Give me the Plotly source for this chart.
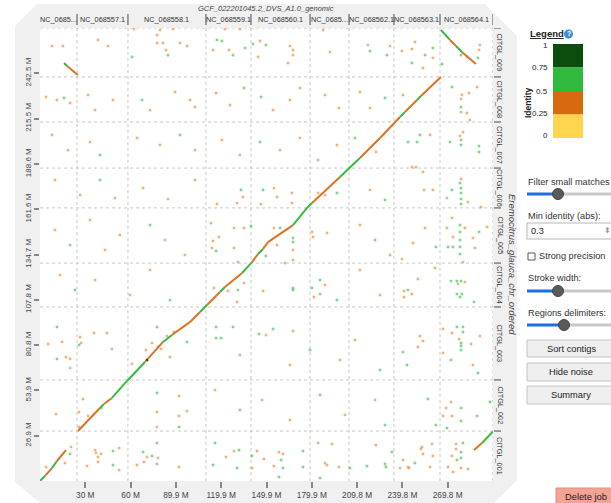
import plotly.graph_objects as go

# ---------------- data (Mb) ----------------
x_title = "GCF_022201045.2_DVS_A1.0_genomic"
y_title = "Eremocitrus_glauca_chr_ordered"

x_contig_names = ["NC_0685...", "NC_068557.1", "NC_068558.1", "NC_068559.1", "NC_068560.1",
                  "NC_0685...", "NC_068562.1", "NC_068563.1", "NC_068564.1"]
x_contig_ends = [24.5, 58.2, 109.8, 139.6, 178.7, 204.5, 234.2, 264.7, 299.77]

y_contig_names = ["CITGL_001", "CITGL_002", "CITGL_003", "CITGL_004", "CITGL_005",
                  "CITGL_006", "CITGL_007", "CITGL_008", "CITGL_009"]
y_contig_ends = [29.7, 60.1, 103.5, 129.6, 162.4, 186.1, 213.5, 240.3, 269.4]

x_tick_vals = [29.98, 59.95, 89.93, 119.91, 149.89, 179.86, 209.84, 239.82, 269.79]
x_tick_text = ["30 M", "60 M", "89.9 M", "119.9 M", "149.9 M", "179.9 M", "209.8 M", "239.8 M", "269.8 M"]
y_tick_vals = [26.94, 53.88, 80.82, 107.76, 134.70, 161.64, 188.58, 215.52, 242.46]
y_tick_text = ["26.9 M", "53.9 M", "80.8 M", "107.8 M", "134.7 M", "161.6 M", "188.6 M", "215.5 M", "242.5 M"]

# alignment blocks: start (x0,y0) -> end (x1,y1), identity
seg_x0 = [0.0, 3.3, 7.9, 11.2,
          25.1, 39.7, 42.3, 47.6, 57.6, 69.5, 81.4, 87.3, 99.3, 105.9, 110.5, 119.1, 122.4, 133.7,
          140.3, 144.3, 147.6, 150.9, 167.4, 176.7, 180.0, 198.5, 211.7, 225.0, 238.2, 241.5, 249.5, 252.1,
          265.3, 271.3, 275.3, 279.2,
          15.9, 17.9,
          287.2, 292.5,
          70.5]
seg_y0 = [0.0, 3.0, 7.7, 11.9,
          29.7, 43.4, 45.8, 49.4, 59.5, 70.8, 82.7, 86.8, 94.6, 100.5, 104.7, 112.4, 115.4, 123.7,
          130.2, 135.0, 138.0, 142.1, 152.2, 162.4, 165.3, 180.8, 192.1, 204.0, 216.5, 219.4, 226.6, 229.0,
          268.2, 262.3, 258.7, 255.1,
          248.6, 246.8,
          18.4, 22.6,
          71.5]
seg_x1 = [3.3, 7.9, 11.2, 17.2,
          39.7, 42.3, 47.6, 57.6, 69.5, 81.4, 87.3, 99.3, 105.9, 110.5, 119.1, 122.4, 133.7, 140.3,
          144.3, 147.6, 150.9, 167.4, 176.7, 180.0, 198.5, 211.7, 225.0, 238.2, 241.5, 249.5, 252.1, 265.3,
          271.3, 275.3, 279.2, 288.5,
          17.9, 25.1,
          292.5, 299.8,
          71.3]
seg_y1 = [3.0, 7.7, 11.9, 18.4,
          43.4, 45.8, 49.4, 59.5, 70.8, 82.7, 86.8, 94.6, 100.5, 104.7, 112.4, 115.4, 123.7, 130.2,
          135.0, 138.0, 142.1, 152.2, 162.4, 165.3, 180.8, 192.1, 204.0, 216.5, 219.4, 226.6, 229.0, 240.3,
          262.3, 258.7, 255.1, 248.0,
          246.8, 241.4,
          22.6, 29.4,
          72.3]
seg_identity = [0.60, 0.40, 0.55, 0.40,
                0.40, 0.55, 0.40, 0.60, 0.60, 0.45, 0.55, 0.40, 0.40, 0.55, 0.40, 0.55, 0.40, 0.60,
                0.40, 0.55, 0.40, 0.40, 0.60, 0.60, 0.40, 0.60, 0.40, 0.40, 0.55, 0.40, 0.55, 0.40,
                0.60, 0.40, 0.55, 0.40,
                0.55, 0.40,
                0.40, 0.60,
                0.85]

# small noisy matches, identity 0.25-0.5
noise_low = [
    (7.9, 258.7), (15.2, 258.7), (38.4, 262.3), (45.0, 258.7), (77.4, 265.2), (77.4, 260.5), (81.4, 260.5),
    (83.4, 256.3), (92.6, 260.5), (97.3, 258.7), (62.2, 268.8), (79.4, 268.2), (88.0, 268.8), (114.5, 256.3),
    (125.1, 256.3), (122.4, 268.8), (132.3, 268.8), (145.6, 261.7), (165.4, 258.7), (167.4, 256.3),
    (167.4, 253.3), (144.3, 252.2), (164.1, 248.6), (191.9, 255.1), (187.3, 268.2), (217.0, 259.3),
    (231.6, 258.7), (248.1, 261.1), (246.1, 256.9), (260.0, 251.6), (253.4, 245.6), (239.5, 255.7),
    (282.5, 252.2), (291.1, 259.3), (290.5, 256.3),
    (4.0, 228.4), (11.2, 226.6), (19.9, 224.8), (31.8, 229.6), (36.4, 220.6), (48.3, 226.6), (72.8, 220.6),
    (89.3, 231.3), (99.3, 226.6), (102.6, 222.4), (116.5, 230.7), (125.7, 223.6), (154.2, 220.6),
    (165.4, 226.6), (172.0, 233.7), (188.6, 229.6), (197.8, 221.8), (211.7, 231.3), (218.4, 221.8),
    (240.2, 229.6), (279.2, 229.6), (278.6, 227.2), (289.2, 234.3), (283.9, 230.7), (278.6, 219.4),
    (282.5, 218.8), (284.5, 214.7),
    (7.9, 205.8), (18.5, 196.8), (33.1, 201.6), (64.2, 204.0), (79.4, 199.8), (102.6, 196.8), (120.4, 202.8),
    (132.3, 193.9), (158.8, 196.8), (172.0, 204.0), (184.0, 190.9), (196.5, 199.8), (222.3, 195.7),
    (258.1, 205.8), (246.1, 186.7), (248.8, 186.7), (279.9, 207.5), (277.9, 205.2),
    (9.9, 179.0), (26.5, 170.1), (49.6, 168.3), (68.2, 174.2), (84.7, 167.7), (102.6, 179.0), (134.3, 168.9),
    (117.1, 164.7), (130.4, 165.3), (146.2, 164.7), (154.8, 174.2), (156.8, 168.9), (166.7, 171.3),
    (166.7, 165.3), (184.0, 171.3), (188.6, 170.1), (218.4, 173.1), (253.4, 183.8), (254.1, 173.1),
    (260.0, 173.1), (269.3, 168.3), (283.2, 165.9), (291.8, 162.9), (278.6, 179.6),
    (9.9, 149.3), (33.1, 155.2), (43.0, 137.4), (52.9, 146.3), (82.7, 143.3), (95.9, 134.4), (113.2, 153.4),
    (114.5, 142.7), (118.4, 145.1), (113.8, 138.6), (128.4, 150.5), (135.0, 150.5), (128.4, 138.6),
    (154.8, 150.5), (156.8, 140.3), (167.4, 137.4), (167.4, 131.4), (180.0, 148.1), (180.6, 145.1),
    (189.9, 147.5), (131.0, 130.2), (211.7, 152.2), (231.6, 134.4), (254.8, 150.5), (246.8, 141.5),
    (269.3, 150.5), (272.6, 156.4), (281.2, 150.5), (273.3, 145.1), (286.5, 144.5), (287.8, 138.6),
    (295.8, 151.1),
    (13.2, 122.5), (36.4, 119.5), (59.6, 110.6), (72.8, 125.5), (115.1, 114.8), (135.0, 117.8), (124.4, 113.0),
    (130.4, 106.5), (147.6, 113.0), (162.1, 129.6), (188.6, 116.6), (181.3, 109.4), (211.7, 125.5),
    (225.0, 110.6), (261.4, 126.7), (250.1, 120.1), (240.9, 113.0), (246.1, 111.2), (240.9, 109.4),
    (276.6, 117.2), (281.2, 118.3), (239.5, 132.0), (279.9, 130.2),
    (5.3, 81.5), (14.6, 82.7), (17.2, 73.7), (19.9, 72.6), (19.9, 67.2), (26.5, 85.6), (27.1, 82.1), (35.7, 88.0),
    (44.3, 88.0), (47.6, 78.5), (60.9, 69.6), (70.1, 77.9), (74.1, 82.1), (84.0, 86.2), (86.0, 73.7),
    (80.1, 78.5), (149.5, 86.8), (167.4, 89.2), (132.3, 74.9), (165.4, 69.0), (198.5, 72.0), (208.4, 83.9),
    (251.4, 86.2), (253.4, 83.3), (250.1, 79.7), (266.7, 90.4), (272.6, 88.0), (277.3, 84.4), (285.2, 81.5),
    (291.1, 86.2), (266.7, 76.1), (286.5, 69.0),
    (10.6, 39.8), (28.5, 48.8), (25.8, 41.0), (25.8, 32.1), (31.8, 38.7), (77.4, 41.0), (77.4, 32.1),
    (92.0, 50.5), (92.0, 38.7), (97.3, 41.6), (115.8, 54.1), (146.9, 48.2), (165.4, 36.3), (201.8, 39.3),
    (221.7, 48.2), (272.0, 47.0), (268.7, 43.4), (266.7, 38.7), (272.6, 38.7),
    (20.5, 20.2), (4.0, 8.3), (16.5, 10.7), (36.4, 18.4), (37.1, 16.7), (40.4, 16.1), (38.4, 14.3), (38.4, 11.3),
    (31.1, 8.9), (52.3, 19.6), (52.3, 6.5), (70.8, 14.3), (68.8, 11.3), (64.2, 9.5), (78.1, 13.7), (92.0, 8.3),
    (123.1, 14.3), (128.4, 17.8), (140.3, 7.7), (143.6, 17.8), (148.2, 13.1), (154.8, 8.9), (158.1, 17.2),
    (160.8, 16.1), (184.0, 22.6), (193.2, 22.0), (188.6, 10.7), (189.9, 9.5), (197.8, 8.3), (222.3, 21.4),
    (240.2, 12.5), (238.2, 7.7), (244.2, 7.7), (252.8, 20.2), (253.4, 16.1), (259.4, 22.0), (260.0, 14.9),
    (252.1, 19.0), (243.5, 8.3), (258.1, 8.3), (275.3, 22.0), (275.3, 19.0), (270.0, 8.3), (273.3, 5.4),
    (278.6, 7.7), (283.2, 7.1), (272.6, 14.9),
]

# small noisy matches, identity 0.5-0.75
noise_mid = [
    (60.9, 252.2), (84.7, 253.3), (117.1, 262.3), (120.4, 261.7), (127.7, 253.3), (135.7, 257.5),
    (140.9, 259.9), (149.5, 259.3), (218.4, 255.7), (229.6, 253.3), (254.8, 253.3), (260.0, 257.5),
    (246.1, 248.6), (278.6, 253.3), (289.8, 251.6), (266.0, 248.0),
    (15.9, 227.8), (67.5, 226.6), (135.0, 233.7), (146.2, 228.4), (228.3, 227.8), (272.6, 234.3), (278.6, 222.4),
    (39.7, 193.9), (92.6, 205.8), (145.6, 201.6), (208.4, 204.0), (251.4, 205.8), (243.5, 201.6),
    (249.5, 201.6), (278.6, 202.8), (278.6, 199.8), (271.3, 201.6), (290.5, 199.2), (290.5, 195.7),
    (39.7, 179.0), (133.0, 173.1), (147.6, 173.1), (196.5, 171.3), (228.3, 167.1), (272.6, 173.1),
    (277.9, 177.2), (278.6, 174.2), (278.6, 171.3), (278.6, 167.7), (278.6, 164.7),
    (19.9, 140.3), (72.8, 152.2), (116.5, 136.8), (139.6, 151.6), (158.8, 150.5), (149.5, 133.8),
    (167.4, 144.5), (167.4, 142.1), (221.7, 143.3), (262.0, 139.2), (277.9, 152.2), (277.9, 148.1),
    (277.9, 143.3), (277.9, 139.2), (277.9, 135.0), (270.0, 139.2), (273.3, 139.2), (290.5, 148.1),
    (23.2, 113.6), (86.0, 107.6), (131.0, 113.6), (167.4, 114.8), (167.4, 113.6), (180.0, 114.8),
    (185.3, 119.5), (185.3, 111.2), (196.5, 107.6), (243.5, 113.6), (272.0, 118.9), (275.9, 118.9),
    (278.6, 118.9), (275.9, 111.2), (279.2, 111.2), (277.9, 109.4), (287.2, 106.5),
    (11.2, 91.6), (11.2, 72.6), (25.8, 80.9), (77.4, 91.6), (78.1, 79.7), (88.7, 88.6), (97.3, 82.7),
    (116.5, 91.6), (127.7, 91.6), (116.5, 85.0), (119.8, 85.0), (154.2, 90.4), (144.9, 87.4), (178.7, 77.9),
    (225.0, 66.0), (240.2, 76.7), (242.8, 69.0), (275.9, 91.6), (279.9, 91.6), (279.9, 88.6), (278.6, 82.1),
    (278.6, 80.3), (278.6, 77.9), (272.0, 72.0), (289.8, 64.2),
    (40.4, 43.4), (77.4, 52.3), (92.0, 32.1), (132.3, 42.2), (185.3, 51.1), (228.3, 33.3), (256.7, 48.8),
    (262.0, 33.3), (278.6, 43.4), (278.6, 35.7), (269.3, 31.5), (289.2, 38.7), (297.8, 47.0),
    (19.9, 16.1), (48.3, 17.8), (48.3, 9.5), (68.2, 17.2), (74.1, 14.9), (77.4, 22.6), (77.4, 10.1),
    (115.8, 22.6), (114.5, 9.5), (131.7, 18.4), (130.4, 7.7), (140.3, 14.9), (159.5, 12.5), (160.8, 7.7),
    (158.1, 2.4), (174.0, 17.8), (174.0, 8.3), (185.3, 1.8), (205.1, 7.7), (216.4, 8.9), (228.3, 10.1),
    (228.9, 8.3), (232.9, 17.2), (248.1, 10.7), (279.9, 22.6), (278.6, 17.2), (278.6, 13.7), (275.9, 12.5),
]

legend_levels = ["1", "0.75", "0.5", "0.25", "0"]

# ---------------- styling ----------------
FONT = "Liberation Sans, Arial, sans-serif"
C_DARK, C_GREEN, C_ORANGE, C_YELLOW = "#0b4c0f", "#30b93c", "#d9690e", "#fdd54f"
L, R, T, B = 40, 493, 28, 481   # plot area edges in page pixels
XMAX, YMAX = x_contig_ends[-1], y_contig_ends[-1]


def px(X):
    return (X - L) / (R - L)


def py(Y):
    return (B - Y) / (B - T)


fig = go.Figure()


def add_blocks(lo, hi, color, width):
    xs, ys = [], []
    for a, b, c, d, v in zip(seg_x0, seg_y0, seg_x1, seg_y1, seg_identity):
        if lo <= v < hi:
            xs += [a, c, None]
            ys += [b, d, None]
    if xs:
        fig.add_trace(go.Scatter(x=xs, y=ys, mode="lines", line=dict(color=color, width=width),
                                 hoverinfo="skip", showlegend=False))


fig.add_trace(go.Scatter(x=[p[0] for p in noise_low], y=[p[1] for p in noise_low], mode="markers",
                         marker=dict(symbol="square", size=2.6, color="#e8883a", opacity=0.65, line=dict(width=0)),
                         hoverinfo="skip", showlegend=False))
fig.add_trace(go.Scatter(x=[p[0] for p in noise_mid], y=[p[1] for p in noise_mid], mode="markers",
                         marker=dict(symbol="square", size=2.6, color="#3cc04a", opacity=0.65, line=dict(width=0)),
                         hoverinfo="skip", showlegend=False))
add_blocks(0.25, 0.5, "#dc7222", 2)
add_blocks(0.5, 0.75, "#35bb40", 2)
add_blocks(0.75, 1.01, C_DARK, 2.5)

shapes = []
# gray frame
frame = [(37, 4), (485, 4), (517, 36), (517, 480), (494, 503), (40, 503), (15, 482), (15, 26)]
path = "M " + " L ".join(f"{px(a):.5f},{py(b):.5f}" for a, b in frame) + " Z"
shapes.append(dict(type="path", xref="paper", yref="paper", path=path, fillcolor="#f0f0f0",
                   line=dict(width=0), layer="below"))
shapes.append(dict(type="rect", xref="paper", yref="paper", x0=0, x1=1, y0=0, y1=1,
                   fillcolor="white", line=dict(width=0), layer="below"))
# contig delimiters
for xe in x_contig_ends:
    shapes.append(dict(type="line", xref="x", yref="y", x0=xe, x1=xe, y0=0, y1=YMAX,
                       line=dict(color="#c8c8c8", width=1, dash="dot"), layer="below"))
    shapes.append(dict(type="line", xref="x", yref="paper", x0=xe, x1=xe, y0=py(25), y1=py(14),
                       line=dict(color="#666", width=1.2)))
for ye in y_contig_ends:
    shapes.append(dict(type="line", xref="x", yref="y", x0=0, x1=XMAX, y0=ye, y1=ye,
                       line=dict(color="#c8c8c8", width=1, dash="dot"), layer="below"))
    shapes.append(dict(type="line", xref="paper", yref="y", x0=px(494), x1=px(501), y0=ye, y1=ye,
                       line=dict(color="#666", width=1.2)))

ann = []


def note(text, x, y, size, color="#333", xref="paper", yref="paper", xanchor="center", angle=0):
    ann.append(dict(text=text, xref=xref, yref=yref, x=x, y=y, xanchor=xanchor, yanchor="middle",
                    showarrow=False, textangle=angle, font=dict(size=size, color=color)))


note(f"<i>{x_title}</i>", px(266), py(8.5), 7.5, "#444")
note(f"<i>{y_title}</i>", px(513), py(264), 9.5, "#444", angle=90)
prev = 0
for name, e in zip(x_contig_names, x_contig_ends):
    note(name, (prev + e) / 2, py(19.5), 7.3, xref="x")
    prev = e
prev = 0
for name, e in zip(y_contig_names, y_contig_ends):
    note(name, px(500), (prev + e) / 2, 7.3, yref="y", angle=90)
    prev = e

# ---- side panel ----
note("<b><u>Legend</u></b>", px(546.5), py(34), 9.5, "#222")
shapes.append(dict(type="circle", xref="paper", yref="paper", x0=px(564), x1=px(573), y0=py(38.5), y1=py(29.5),
                   fillcolor="#3d8fd8", line=dict(width=0)))
note("<b>?</b>", px(568.5), py(34), 7, "white")
box_cols = [C_DARK, C_GREEN, C_ORANGE, C_YELLOW]
box_edges = [44, 67.5, 91, 114.5, 138]
for i, col in enumerate(box_cols):
    shapes.append(dict(type="rect", xref="paper", yref="paper", x0=px(553), x1=px(583),
                       y0=py(box_edges[i + 1]), y1=py(box_edges[i]), fillcolor=col, line=dict(width=0)))
for lab, yy in zip(legend_levels, [46, 67, 91, 114, 135]):
    note(lab, px(550), py(yy), 8, "#222", xanchor="right")
note("<b>Identity</b>", px(528), py(103), 8.5, "#222", angle=-90)


def text_left(t, X, Y, size=9.2, color="#333"):
    note(t, px(X), py(Y), size, color, xanchor="left")


def slider(Y, knob):
    shapes.append(dict(type="line", xref="paper", yref="paper", x0=px(558), x1=px(612), y0=py(Y), y1=py(Y),
                       line=dict(color="#c8c8c8", width=3)))
    shapes.append(dict(type="line", xref="paper", yref="paper", x0=px(527), x1=px(knob), y0=py(Y), y1=py(Y),
                       line=dict(color="#1d6fe0", width=3)))
    shapes.append(dict(type="circle", xref="paper", yref="paper", x0=px(knob - 5.5), x1=px(knob + 5.5),
                       y0=py(Y + 5.5), y1=py(Y - 5.5), fillcolor="#5a5a5a", line=dict(color="#444", width=1)))


def button(t, y0, y1, x0=527, x1=612, fill="#efefef", border="#c4c4c4", cx=571):
    shapes.append(dict(type="rect", xref="paper", yref="paper", x0=px(x0), x1=px(x1), y0=py(y1), y1=py(y0),
                       fillcolor=fill, line=dict(color=border, width=1)))
    note(t, px(cx), py((y0 + y1) / 2), 9.3, "#222")


text_left("Filter small matches", 526, 182)
slider(194, 558)
text_left("Min identity (abs):", 526, 216)
shapes.append(dict(type="rect", xref="paper", yref="paper", x0=px(527), x1=px(612), y0=py(239), y1=py(223),
                   fillcolor="white", line=dict(color="#b5b5b5", width=1)))
text_left("0.3", 529, 231, color="#222")
note("⬍", px(607), py(231), 8, "#999")
shapes.append(dict(type="rect", xref="paper", yref="paper", x0=px(528), x1=px(535), y0=py(260), y1=py(253),
                   fillcolor="white", line=dict(color="#555", width=1)))
text_left("Strong precision", 537, 256)
text_left("Stroke width:", 526, 278)
slider(291, 558)
text_left("Regions delimiters:", 526, 313)
slider(325, 564)
button("Sort contigs", 340, 357)
button("Hide noise", 363, 381)
button("Summary", 386, 404)
button("Delete job", 488, 506, x0=556, x1=613, fill="#f3a394", border="#e58d7c", cx=586)

fig.update_layout(
    width=611, height=503, autosize=False,
    margin=dict(l=L, r=611 - R, t=T, b=503 - B, pad=0, autoexpand=False),
    paper_bgcolor="white", plot_bgcolor="white",
    font=dict(family=FONT, color="#333"),
    shapes=shapes, annotations=ann, showlegend=False,
    xaxis=dict(range=[0, XMAX], showgrid=False, zeroline=False, showline=False,
               tickmode="array", tickvals=x_tick_vals, ticktext=x_tick_text,
               ticks="outside", ticklen=6, tickwidth=1.5, tickcolor="#888",
               tickfont=dict(size=8.3, color="#444"), automargin=False, fixedrange=True),
    yaxis=dict(range=[0, YMAX], showgrid=False, zeroline=False, showline=False,
               tickmode="array", tickvals=y_tick_vals, ticktext=y_tick_text,
               ticks="outside", ticklen=5, tickwidth=1.5, tickcolor="#888", tickangle=-90,
               tickfont=dict(size=8, color="#444"), automargin=False, fixedrange=True),
)

post = ("document.body.style.margin='0';document.body.style.padding='0';"
        "var gd=document.getElementById('{plot_id}');gd.style.position='absolute';"
        "gd.style.left='0px';gd.style.top='0px';")
fig.write_html("out.html", post_script=post, config={"displayModeBar": False})
